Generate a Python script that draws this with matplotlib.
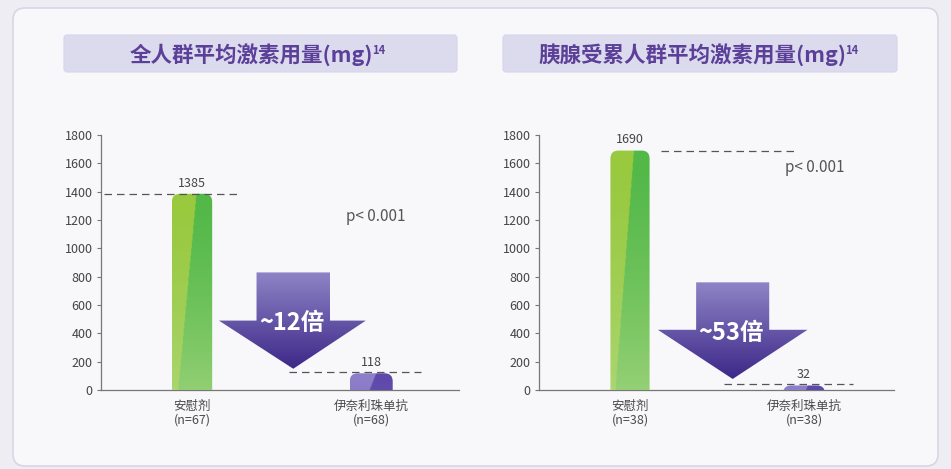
import numpy as np
import matplotlib
matplotlib.use('Agg')
import matplotlib.pyplot as plt
from matplotlib.patches import FancyBboxPatch, Polygon
from matplotlib.text import Annotation
from matplotlib.colors import to_rgb

plt.rcParams['font.family'] = ['Noto Sans CJK SC', 'DejaVu Sans']

# data
groups = ['安慰剂', '伊奈利珠单抗']
titles = ['全人群平均激素用量(mg)', '胰腺受累人群平均激素用量(mg)']
title_ref = '14'
n_left = [67, 68]
n_right = [38, 38]
dose_left = [1385, 118]
dose_right = [1690, 32]
fold_labels = ['~12倍', '~53倍']
p_text = 'p< 0.001'
yticks = [0, 200, 400, 600, 800, 1000, 1200, 1400, 1600, 1800]

W, H = 951, 469
fig = plt.figure(figsize=(W / 100, H / 100), dpi=100)
fig.patch.set_facecolor('#eeedf3')


def px_box(x0, y0, x1, y1, r, **kw):
    # box given in pixels from the top-left corner
    p = FancyBboxPatch((x0 / W, 1 - y1 / H), (x1 - x0) / W, (y1 - y0) / H,
                       boxstyle=f'round,pad=0,rounding_size={r / W}',
                       mutation_aspect=W / H, transform=fig.transFigure, **kw)
    fig.add_artist(p)
    return p


# card and title boxes
px_box(13, 8, 938, 466, 12, fc='#f8f8fb', ec='#d9d5e6', lw=1.2, zorder=0)
px_box(64, 35, 457, 72, 3, fc='#dcdbee', ec='#d6d4ea', lw=0.8, zorder=1)
px_box(503, 35, 897, 72, 3, fc='#dcdbee', ec='#d6d4ea', lw=0.8, zorder=1)

for cx, t in zip([251, 692], titles):
    txt = fig.text(cx / W, 1 - 55 / H, t, ha='center', va='center',
                   fontsize=15.5, fontweight='bold', color='#5b3f98', zorder=2)
    sup = Annotation(title_ref, xy=(1, 0.97), xycoords=txt, xytext=(-0.5, 0),
                     textcoords='offset points', ha='left', va='top',
                     fontsize=8, fontweight='bold', color='#5b3f98',
                     annotation_clip=False, zorder=2)
    fig.add_artist(sup)


def gradient_fill(ax, patch, extent, c_left, c_right, c_bottom, split):
    # diagonal two-tone fill, fading to a lighter colour at the bottom
    nx, ny = 60, 200
    u = np.linspace(0, 1, nx)[None, :]
    v = np.linspace(0, 1, ny)[:, None]
    left = u < split[0] + split[1] * v
    cl, cr, cb = map(np.array, map(to_rgb, (c_left, c_right, c_bottom)))
    img = np.where(left[..., None], cl, cr)
    fade = ((1 - v) ** 1.4 * 0.85)[..., None]
    img = img * (1 - fade) + cb * fade
    im = ax.imshow(img, extent=extent, origin='lower', aspect='auto',
                   interpolation='bilinear', zorder=3)
    im.set_clip_path(patch)


def bar(ax, x, w, h, colors):
    patch = FancyBboxPatch((x - w / 2, -300), w, h + 300,
                           boxstyle='round,pad=0,rounding_size=0.045',
                           mutation_aspect=1260, fc='none', ec='none', zorder=3)
    ax.add_patch(patch)
    gradient_fill(ax, patch, (x - w / 2, x + w / 2, -300, h), *colors)


green = ('#98c93e', '#52b848', '#b4db8a', (0.05, 0.55))
purple = ('#8d7fca', '#5e48aa', '#7767bc', (0.05, 0.55))


def arrow(ax, shaft, head, tip_x, top, head_y, tip_y, label):
    pts = [(shaft[0], top), (shaft[1], top), (shaft[1], head_y),
           (head[1], head_y), (tip_x, tip_y), (head[0], head_y),
           (shaft[0], head_y)]
    poly = Polygon(pts, closed=True, fc='none', ec='none', zorder=4)
    ax.add_patch(poly)
    ny = 200
    v = np.linspace(0, 1, ny)[:, None, None]
    c_top, c_bot = np.array(to_rgb('#8e84c6')), np.array(to_rgb('#3d2888'))
    img = np.repeat(c_bot * (1 - v) + c_top * v, 2, axis=1)
    im = ax.imshow(img, extent=(head[0], head[1], tip_y, top), origin='lower',
                   aspect='auto', interpolation='bilinear', zorder=4)
    im.set_clip_path(poly)
    ax.text(tip_x - 0.01, head_y - 20, label, ha='center', va='center',
            fontsize=17, fontweight='bold', color='white', zorder=5)


panels = [
    dict(rect=[101 / W, 79 / H, 358 / W, 255 / H], dose=dose_left, n=n_left,
         xlim=(-0.508, 1.49), dash1=(-0.49, 0.26), p_pos=(0.86, 1228),
         arrow=dict(shaft=(0.36, 0.77), head=(0.15, 0.97), tip_x=0.565,
                    top=830, head_y=490, tip_y=150), fold=fold_labels[0]),
    dict(rect=[539 / W, 79 / H, 355 / W, 255 / H], dose=dose_right, n=n_right,
         xlim=(-0.523, 1.517), dash1=(0.18, 0.94), p_pos=(0.89, 1574),
         arrow=dict(shaft=(0.38, 0.80), head=(0.16, 1.02), tip_x=0.59,
                    top=760, head_y=425, tip_y=78), fold=fold_labels[1]),
]

for pnl in panels:
    ax = fig.add_axes(pnl['rect'])
    ax.set_facecolor('none')
    x = np.arange(len(groups))
    dose = pnl['dose']

    bar(ax, x[0], 0.225, dose[0], green)
    bar(ax, x[1], 0.24, dose[1], purple)

    for xi, d in zip(x, dose):
        ax.annotate(str(d), xy=(xi, d), xytext=(0, 3), textcoords='offset points',
                    ha='center', va='bottom', fontsize=9, color='#444444',
                    annotation_clip=False)

    # reference levels
    ax.plot(pnl['dash1'], [dose[0]] * 2, ls=(0, (6, 4)), lw=0.9,
            color='#555555', zorder=6, clip_on=False)
    ax.plot((0.54, 1.28), [dose[1] + 10] * 2, ls=(0, (6, 4)), lw=0.9,
            color='#555555', zorder=6, clip_on=False)

    arrow(ax, label=pnl['fold'], **pnl['arrow'])

    ax.text(*pnl['p_pos'], p_text, ha='left', va='center', fontsize=11,
            color='#555555')

    ax.set_xlim(*pnl['xlim'])
    ax.set_ylim(0, 1800)
    ax.set_yticks(yticks)
    ax.set_xticks(x, [f'{g}\n(n={k})' for g, k in zip(groups, pnl['n'])])
    for lbl in ax.get_xticklabels():
        lbl.set_linespacing(1.1)
    ax.tick_params(axis='y', length=3, width=0.8, color='#777777',
                   labelsize=9, labelcolor='#444444', pad=3)
    ax.tick_params(axis='x', length=0, labelsize=9, labelcolor='#4a4a4a', pad=7)
    for s in ('top', 'right'):
        ax.spines[s].set_visible(False)
    for s in ('left', 'bottom'):
        ax.spines[s].set_color('#777777')
        ax.spines[s].set_linewidth(0.9)

fig.savefig('out.png', dpi=100)
